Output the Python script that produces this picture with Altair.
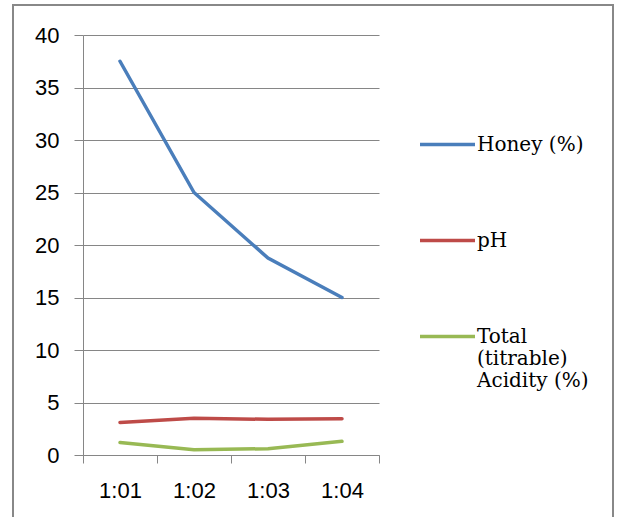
import altair as alt
import pandas as pd

# Ratio groups on the x axis
ratios = ["1:01", "1:02", "1:03", "1:04"]

# Measured series
honey = [37.5, 25.0, 18.75, 15.0]
ph = [3.1, 3.5, 3.4, 3.45]
acidity = [1.2, 0.5, 0.6, 1.3]

series_names = ["Honey (%)", "pH", "Total (titrable) Acidity (%)"]
series_colors = ["#4A7EBB", "#BE4B48", "#98B954"]

rows = []
for name, values in zip(series_names, [honey, ph, acidity]):
    for r, v in zip(ratios, values):
        rows.append({"ratio": r, "series": name, "value": v})
df = pd.DataFrame(rows)

GRAY = "#868686"
AXIS_FONT = "Liberation Sans"
LEGEND_FONT = "DejaVu Serif"

lines = alt.Chart(df).mark_line(strokeWidth=3.5, strokeCap="round").encode(
    x=alt.X(
        "ratio:N",
        sort=ratios,
        bandPosition=0.5,
        scale=alt.Scale(type="band", paddingInner=0, paddingOuter=0),
        axis=alt.Axis(
            title=None,
            labelAngle=0,
            tickBand="extent",
            domainColor=GRAY,
            tickColor=GRAY,
            tickSize=8,
            labelPadding=17,
            labelFont=AXIS_FONT,
            labelFontSize=22,
            labelColor="#000000",
            labelBaseline="top",
            grid=False,
        ),
    ),
    y=alt.Y(
        "value:Q",
        scale=alt.Scale(domain=[0, 40], nice=False),
        axis=alt.Axis(
            title=None,
            values=[0, 5, 10, 15, 20, 25, 30, 35, 40],
            grid=True,
            gridColor=GRAY,
            gridWidth=1,
            domainColor=GRAY,
            tickColor=GRAY,
            tickSize=9,
            labelPadding=15,
            labelFont=AXIS_FONT,
            labelFontSize=22,
            labelColor="#000000",
        ),
    ),
    color=alt.Color(
        "series:N",
        sort=series_names,
        scale=alt.Scale(domain=series_names, range=series_colors),
        legend=alt.Legend(
            title=None,
            orient="none",
            legendX=335,
            legendY=80,
            padding=0,
            symbolType="stroke",
            symbolSize=3025,
            symbolStrokeWidth=3.5,
            labelOffset=0,
            labelFont=LEGEND_FONT,
            labelFontSize=20,
            labelColor="#000000",
            labelBaseline="middle",
            labelLimit=300,
            rowPadding=56,
            labelExpr="datum.label == 'Total (titrable) Acidity (%)' ? ['Total', '(titrable)', 'Acidity (%)'] : datum.label",
        ),
    ),
)

# Outer frame around the whole figure
frame = alt.Chart(pd.DataFrame({"f": [0]})).mark_rect(
    fill=None, stroke="#888888", strokeWidth=2
).encode(
    x=alt.value(-70),
    x2=alt.value(530),
    y=alt.value(-30),
    y2=alt.value(520),
)

chart = (
    alt.layer(lines, frame)
    .properties(
        width=296,
        height=420,
        autosize=alt.AutoSizeParams(type="none"),
        padding={"left": 83, "top": 35, "right": 242, "bottom": 62},
        background="#ffffff",
    )
    .configure_view(stroke=None)
    .configure_legend(labelFont=LEGEND_FONT)
)

chart.save("out.html", embed_options={"renderer": "svg", "actions": False})
